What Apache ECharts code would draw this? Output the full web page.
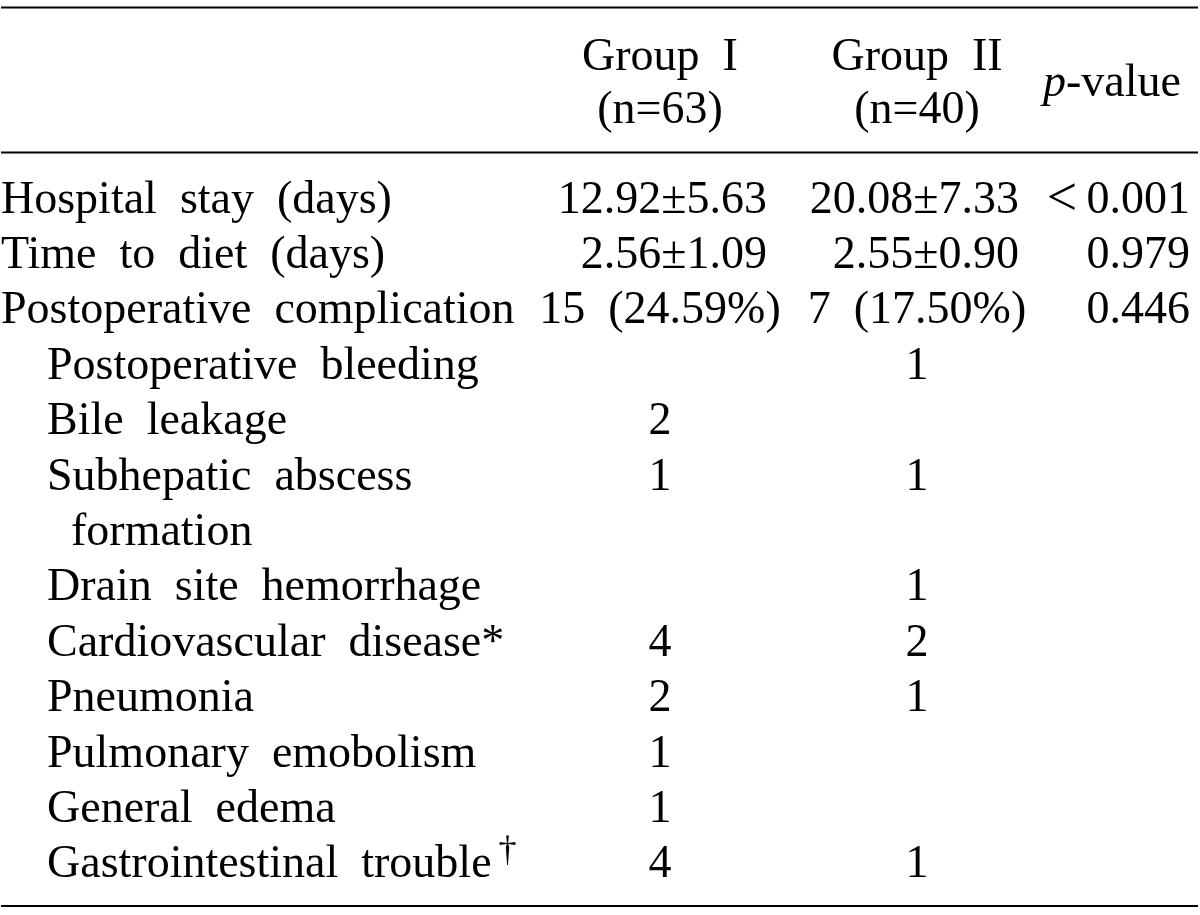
<!DOCTYPE html>
<html>
<head>
<meta charset="utf-8">
<script src="https://cdn.jsdelivr.net/npm/echarts@6/dist/echarts.min.js"></script>
<style>
  html, body { margin: 0; padding: 0; background: #fff; }
  #chart { width: 1200px; height: 915px; }
</style>
</head>
<body>
<div id="chart"></div>
<script>
// ---------- data ----------
const columnHeaders = ['Group  I\n(n=63)', 'Group  II\n(n=40)', '{i|p}-value'];
const rowLabels = [
  'Hospital  stay  (days)',
  'Time  to  diet  (days)',
  'Postoperative  complication',
  'Postoperative  bleeding',
  'Bile  leakage',
  'Subhepatic  abscess',
  'formation',
  'Drain  site  hemorrhage',
  'Cardiovascular  disease*',
  'Pneumonia',
  'Pulmonary  emobolism',
  'General  edema',
  'Gastrointestinal  trouble'
];
const rowIndent = [0, 0, 0, 1, 1, 1, 2, 1, 1, 1, 1, 1, 1];
const rowNotes = ['', '', '', '', '', '', '', '', '', '', '', '', '†'];
const groupI = ['12.92±5.63', '2.56±1.09', '15  (24.59%)', '', '2', '1', '', '', '4', '2', '1', '1', '4'];
const groupII = ['20.08±7.33', '2.55±0.90', '7  (17.50%)', '1', '', '1', '', '1', '2', '1', '', '', '1'];
const pValues = ['{lt|<}\u20090.001', '0.979', '0.446', '', '', '', '', '', '', '', '', '', ''];
const meanSdRows = [0, 1]; // rows whose group values are right-aligned

// ---------- layout ----------
const W = 1200, H = 915;
const FS = 46;
const FAMILY = '"Liberation Serif", "Times New Roman", Times, serif';
const FONT = FS + 'px ' + FAMILY;
const MID = 0.27 * FS;            // baseline -> middle offset
const BODY_BASE = 213, PITCH = 55.4;
const HEAD_BASE = [70, 123], P_HEAD_BASE = 96;
const X = { ind0: 1, ind1: 47, ind2: 71, g1C: 660, g1R: 767, g2C: 917, g2R: 1019, pR: 1190, pC: 1112 };
const RULES = [7.5, 152.5, 906];

const cells = [];
function add(x, base, text, align) {
  if (!text) return;
  cells.push({ x: x, y: base - MID, text: text, align: align });
}
// header
const hdr = columnHeaders[0].split('\n');
const hdr2 = columnHeaders[1].split('\n');
add(X.g1C, HEAD_BASE[0], hdr[0], 'center');
add(X.g1C, HEAD_BASE[1], hdr[1], 'center');
add(X.g2C, HEAD_BASE[0], hdr2[0], 'center');
add(X.g2C, HEAD_BASE[1], hdr2[1], 'center');
add(X.pC, P_HEAD_BASE, columnHeaders[2], 'center');
// body
rowLabels.forEach(function (lab, i) {
  const base = BODY_BASE + PITCH * i;
  const xs = [X.ind0, X.ind1, X.ind2][rowIndent[i]];
  if (rowNotes[i]) {
    add(xs, base, '{m|' + lab + '}{s|' + rowNotes[i] + '}', 'left');
  } else {
    add(xs, base, lab, 'left');
  }
  const ms = meanSdRows.indexOf(i) >= 0;
  add(ms ? X.g1R : X.g1C, base, groupI[i], ms ? 'right' : 'center');
  add(ms ? X.g2R : X.g2C, base, groupII[i], ms ? 'right' : 'center');
  add(X.pR, base, pValues[i], 'right');
});

const chart = echarts.init(document.getElementById('chart'), null, { renderer: 'canvas' });
chart.setOption({
  animation: false,
  backgroundColor: '#ffffff',
  grid: { left: 0, right: 0, top: 0, bottom: 0 },
  xAxis: { type: 'value', min: 0, max: W, show: false },
  yAxis: { type: 'value', min: 0, max: H, inverse: true, show: false },
  series: [
    {
      type: 'custom',
      coordinateSystem: 'cartesian2d',
      data: RULES.map(function (y) { return [0, y]; }),
      renderItem: function (params, api) {
        const a = api.coord([1, api.value(1)]);
        const b = api.coord([W - 2, api.value(1)]);
        return {
          type: 'line',
          shape: { x1: a[0], y1: a[1], x2: b[0], y2: b[1] },
          style: { stroke: '#000', lineWidth: 2 }
        };
      }
    },
    {
      type: 'custom',
      coordinateSystem: 'cartesian2d',
      data: cells.map(function (c) { return [c.x, c.y]; }),
      renderItem: function (params, api) {
        const c = cells[params.dataIndex];
        const p = api.coord([api.value(0), api.value(1)]);
        const style = {
          text: c.text,
          fill: '#000',
          font: FONT,
          align: c.align,
          verticalAlign: 'middle',
          rich: {
            i: { fontFamily: FAMILY, fontSize: FS, fontStyle: 'italic', fill: '#000' },
            lt: { fontFamily: FAMILY, fontSize: 54, fill: '#000' },
            m: { fontFamily: FAMILY, fontSize: FS, lineHeight: 64, verticalAlign: 'middle', fill: '#000' },
            s: { fontFamily: FAMILY, fontSize: 36, lineHeight: 36, verticalAlign: 'top', padding: [0, 0, 0, 7], fill: '#000' }
          }
        };
        return { type: 'text', x: p[0], y: p[1], style: style };
      }
    }
  ]
});
</script>
</body>
</html>
